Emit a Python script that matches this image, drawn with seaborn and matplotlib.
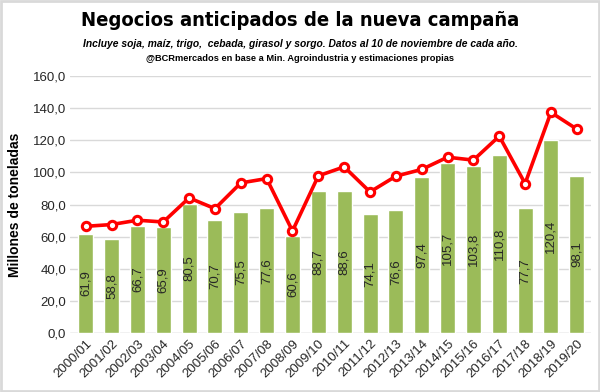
#!/usr/bin/env python
import matplotlib
matplotlib.use("Agg")
import matplotlib.pyplot as plt
import seaborn as sns
from matplotlib.patches import Rectangle

campanas = ["2000/01", "2001/02", "2002/03", "2003/04", "2004/05", "2005/06",
            "2006/07", "2007/08", "2008/09", "2009/10", "2010/11", "2011/12",
            "2012/13", "2013/14", "2014/15", "2015/16", "2016/17", "2017/18",
            "2018/19", "2019/20"]
negocios = [61.9, 58.8, 66.7, 65.9, 80.5, 70.7, 75.5, 77.6, 60.6, 88.7,
            88.6, 74.1, 76.6, 97.4, 105.7, 103.8, 110.8, 77.7, 120.4, 98.1]
linea_roja = [66.5, 67.6, 70.3, 69.2, 84.2, 77.5, 93.5, 96.2, 63.6, 97.9,
              103.5, 87.9, 97.7, 101.9, 109.5, 107.7, 122.6, 93.1, 137.4, 127.0]
yticks = [0, 20, 40, 60, 80, 100, 120, 140, 160]

sns.set_style("white")
plt.rcParams["font.family"] = ["Liberation Sans", "DejaVu Sans"]

fig = plt.figure(figsize=(6, 3.92), dpi=100)
ax = fig.add_axes([0.117, 0.150, 0.868, 0.656])

sns.barplot(x=campanas, y=negocios, color="#9BBB59", saturation=1,
            width=0.58, ax=ax, zorder=2)
sns.pointplot(x=campanas, y=linea_roja, color="#FF0000", ax=ax,
              markers="o", markersize=6, markerfacecolor="white",
              markeredgewidth=2.2, linewidth=2.6, zorder=3)

# etiquetas de valor dentro de las barras
for i, v in enumerate(negocios):
    ax.text(i, v / 2, "{:.1f}".format(v).replace(".", ","), rotation=90,
            ha="center", va="center", fontsize=9.5, color="#262626", zorder=4)

ax.set_ylim(0, 160)
ax.set_yticks(yticks)
ax.set_yticklabels(["{:.1f}".format(t).replace(".", ",") for t in yticks],
                   fontsize=9.5, color="#262626")
ax.set_xticks(range(len(campanas)))
ax.set_xticklabels(campanas, rotation=45, ha="right", rotation_mode="anchor",
                   fontsize=9.5, color="#262626")
ax.tick_params(axis="both", length=0, pad=3)
ax.yaxis.grid(True, color="#D9D9D9", linewidth=1)
ax.set_axisbelow(True)
for s in ax.spines.values():
    s.set_visible(False)
ax.axhline(0, color="#D9D9D9", linewidth=1, zorder=1)
ax.set_xlabel("")
ax.set_ylabel("Millones de toneladas", fontsize=10, fontweight="bold",
              color="black", labelpad=8)
ax.set_xlim(-0.6, len(campanas) - 0.45)

fig.text(0.5, 0.948, "Negocios anticipados de la nueva campaña", ha="center",
         va="center", fontsize=14.5, fontweight="bold", fontstretch="condensed",
         family=["DejaVu Sans"], color="black")
fig.text(0.5, 0.888, "Incluye soja, maíz, trigo,  cebada, girasol y sorgo. Datos al 10 de noviembre de cada año.",
         ha="center", va="center", fontsize=7.4, fontweight="bold",
         style="italic", color="black")
fig.text(0.5, 0.851, "@BCRmercados en base a Min. Agroindustria y estimaciones propias",
         ha="center", va="center", fontsize=6.7, fontweight="bold", color="black")

fig.patches.append(Rectangle((0.002, 0.003), 0.996, 0.994, transform=fig.transFigure,
                             fill=False, edgecolor="#D9D9D9", linewidth=2))

fig.savefig("out.png", dpi=100)
